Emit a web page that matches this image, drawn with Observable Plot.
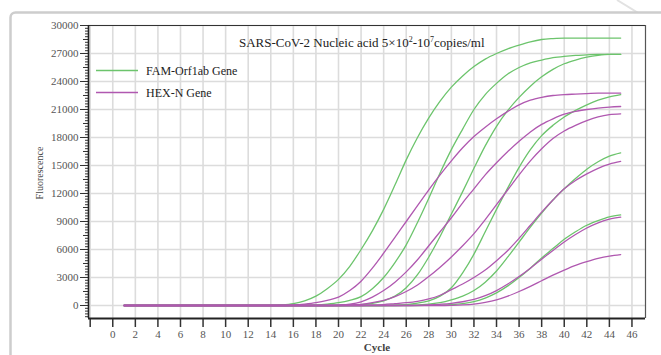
<!DOCTYPE html>
<html><head><meta charset="utf-8">
<script src="https://cdn.jsdelivr.net/npm/d3@7"></script>
<script src="https://cdn.jsdelivr.net/npm/@observablehq/plot@0.6"></script>
<style>html,body{margin:0;padding:0;background:#fff;} svg{display:block}</style>
</head><body><div id="chart"></div>
<script>
// ---- data (cycles 1..45) ----
const cycles = [1,2,3,4,5,6,7,8,9,10,11,12,13,14,15,16,17,18,19,20,21,22,23,24,25,26,27,28,29,30,31,32,33,34,35,36,37,38,39,40,41,42,43,44,45];

const fam1 = [0,0,0,0,0,0,0,0,0,0,0,0,0,0,60,200,500,1000,1800,2800,4200,6000,8000,10300,12900,15600,18000,20100,21900,23400,24600,25600,26400,27000,27500,27900,28250,28500,28600,28650,28650,28650,28650,28650,28650];
const fam2 = [0,0,0,0,0,0,0,0,0,0,0,0,0,0,0,0,0,50,150,300,550,950,1800,3000,4600,6500,8900,11500,14200,16700,18900,21000,22600,23800,24800,25500,26000,26300,26550,26700,26800,26850,26900,26900,26900];
const fam3 = [0,0,0,0,0,0,0,0,0,0,0,0,0,0,0,0,0,0,0,0,20,80,220,500,1000,1900,3300,5200,7400,9800,12200,14700,17100,19200,20900,22300,23500,24500,25300,25900,26300,26600,26800,26900,26900];
const fam4 = [0,0,0,0,0,0,0,0,0,0,0,0,0,0,0,0,0,0,0,0,0,0,0,0,30,100,250,500,1000,1900,3500,5500,7900,10300,12600,14800,16700,18200,19300,20200,20900,21500,22000,22350,22600];
const fam5 = [0,0,0,0,0,0,0,0,0,0,0,0,0,0,0,0,0,0,0,0,0,0,0,0,0,20,50,150,300,600,1000,1600,2500,3700,5200,6800,8400,9900,11300,12500,13600,14600,15400,16000,16350];
const fam6 = [0,0,0,0,0,0,0,0,0,0,0,0,0,0,0,0,0,0,0,0,0,0,0,0,0,0,0,10,30,80,200,420,800,1350,2100,3000,4000,5100,6100,7100,7900,8600,9100,9500,9700];

const hex1 = [0,0,0,0,0,0,0,0,0,0,0,0,0,0,0,50,150,300,550,900,1600,2600,4000,5600,7300,9000,10700,12400,14000,15500,16900,18100,19100,20000,20800,21500,22000,22300,22500,22600,22650,22700,22750,22750,22750];
const hex2 = [0,0,0,0,0,0,0,0,0,0,0,0,0,0,0,0,0,0,0,50,150,400,900,1600,2500,3600,4900,6400,7900,9400,11000,12500,14000,15300,16500,17600,18600,19400,20000,20500,20800,21000,21150,21250,21320];
const hex3 = [0,0,0,0,0,0,0,0,0,0,0,0,0,0,0,0,0,0,0,0,50,130,300,550,950,1500,2200,3100,4100,5200,6400,7700,9200,10800,12400,14000,15500,16800,17900,18700,19300,19800,20200,20450,20540];
const hex4 = [0,0,0,0,0,0,0,0,0,0,0,0,0,0,0,0,0,0,0,0,0,0,30,100,200,300,450,700,1100,1700,2300,3000,3800,4800,5900,7200,8600,10000,11300,12500,13400,14100,14700,15150,15430];
const hex5 = [0,0,0,0,0,0,0,0,0,0,0,0,0,0,0,0,0,0,0,0,0,0,0,0,0,0,20,60,130,230,400,650,1050,1600,2300,3100,4000,4950,5900,6800,7600,8300,8850,9250,9460];
const hex6 = [0,0,0,0,0,0,0,0,0,0,0,0,0,0,0,0,0,0,0,0,0,0,0,0,0,0,0,0,0,20,60,150,330,600,1000,1500,2050,2650,3250,3800,4300,4700,5050,5300,5460];

const famSets = [fam1, fam2, fam3, fam4, fam5, fam6];
const hexSets = [hex1, hex2, hex3, hex4, hex5, hex6];
const seriesNames = ["FAM-Orf1ab Gene", "HEX-N Gene"];
const titleText = ["SARS-CoV-2 Nucleic acid 5×10", "2", "-10", "7", "copies/ml"];
const xTicks = [-2,0,2,4,6,8,10,12,14,16,18,20,22,24,26,28,30,32,34,36,38,40,42,44,46];
const yTicks = [0,3000,6000,9000,12000,15000,18000,21000,24000,27000,30000];

const famColor = "#6cc46c";
const hexColor = "#b058b0";

function build(sets, prefix) {
  const out = [];
  sets.forEach((arr, i) => arr.forEach((v, j) => out.push({series: prefix + i, cycle: cycles[j], value: v})));
  return out;
}
const famData = build(famSets, "F");
const hexData = build(hexSets, "H");

const xDomain = [-2.15, 47.2];
const yDomain = [-1393, 30000];
const yMinor = d3.range(-1200, 30001, 300);
const yMid = d3.range(-1500, 30001, 1500).filter(d => d >= -1393);

const plot = Plot.plot({
  width: 661, height: 355,
  marginLeft: 88, marginRight: 16, marginTop: 25, marginBottom: 37,
  style: {fontFamily: "'Liberation Serif','Times New Roman',serif", fontSize: "11px", color: "#555", background: "transparent", overflow: "visible"},
  x: {domain: xDomain},
  y: {domain: yDomain},
  marks: [
    Plot.gridX(xTicks, {stroke: "#dcdcdc", strokeOpacity: 1, strokeWidth: 1.6}),
    Plot.gridY(yTicks, {stroke: "#dcdcdc", strokeOpacity: 1, strokeWidth: 1.6}),
    Plot.ruleY([yDomain[1]], {stroke: "#333", strokeWidth: 1.2}),
    Plot.ruleX([xDomain[1]], {stroke: "#555", strokeWidth: 1.2}),
    Plot.line(famData, {x: "cycle", y: "value", z: "series", stroke: famColor, strokeWidth: 1.3, curve: "monotone-x"}),
    Plot.line(hexData, {x: "cycle", y: "value", z: "series", stroke: hexColor, strokeWidth: 1.3, curve: "monotone-x"}),
    Plot.axisY(yMinor, {tickSize: 3, text: null, label: null, stroke: "#333"}),
    Plot.axisY(yMid, {tickSize: 5, text: null, label: null, stroke: "#333"}),
    Plot.axisY(yTicks, {tickSize: 8, tickPadding: 2, label: null, stroke: "#333", fill: "#555", fontSize: 11, tickFormat: d => String(d)}),
    Plot.axisX(xTicks, {tickSize: 9, tickPadding: 3, label: null, stroke: "#333", strokeWidth: 1.5, fill: "#555", fontSize: 11, tickFormat: d => d === -2 ? "" : String(d)}),
    Plot.ruleX([xDomain[0]], {stroke: "#222", strokeWidth: 1.6}),
    Plot.ruleY([yDomain[0]], {stroke: "#222", strokeWidth: 2})
  ]
});

document.getElementById("chart").appendChild(plot);
const svg = d3.select(plot);

// outer panel frame (behind)
svg.insert("rect", ":first-child")
  .attr("x", 10.5).attr("y", 12.5).attr("width", 700).attr("height", 400).attr("rx", 5)
  .attr("fill", "#fff").attr("stroke", "#cdcdcd").attr("stroke-width", 2.5);
svg.insert("line", ":first-child")
  .attr("x1", 617).attr("y1", 0).attr("x2", 661).attr("y2", 27)
  .attr("stroke", "#e2e2e2").attr("stroke-width", 2);

const serif = "'Liberation Serif','Times New Roman',serif";

// title
const t = svg.append("text").attr("x", 239).attr("y", 47).attr("text-anchor", "start")
  .attr("font-family", serif).attr("font-size", 13).attr("fill", "#222");
t.append("tspan").text(titleText[0]);
t.append("tspan").attr("dy", -5).attr("font-size", 8).text(titleText[1]);
t.append("tspan").attr("dy", 5).text(titleText[2]);
t.append("tspan").attr("dy", -5).attr("font-size", 8).text(titleText[3]);
t.append("tspan").attr("dy", 5).text(titleText[4]);

// legend
[[famColor, seriesNames[0], 70.5], [hexColor, seriesNames[1], 92.5]].forEach(([c, name, y]) => {
  svg.append("line").attr("x1", 96).attr("x2", 138).attr("y1", y).attr("y2", y)
    .attr("stroke", c).attr("stroke-width", 1.4);
  svg.append("text").attr("x", 146).attr("y", y + 4).attr("text-anchor", "start")
    .attr("font-family", serif).attr("font-size", 12).attr("fill", "#222").text(name);
});

// axis labels
svg.append("text").attr("transform", "translate(43,173) rotate(-90)")
  .attr("text-anchor", "middle").attr("font-family", serif).attr("font-size", 10)
  .attr("fill", "#444").text("Fluorescence");
svg.append("text").attr("x", 377).attr("y", 351)
  .attr("text-anchor", "middle").attr("font-family", serif).attr("font-size", 11)
  .attr("font-weight", "bold").attr("fill", "#444").text("Cycle");
</script>
</body></html>
